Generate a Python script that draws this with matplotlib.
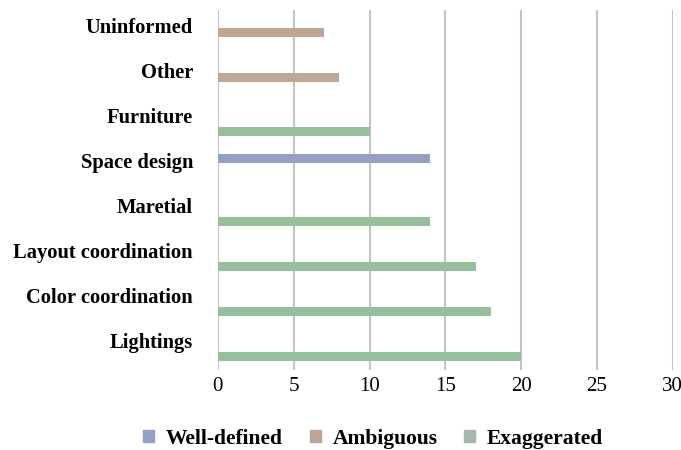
import numpy as np
import matplotlib.pyplot as plt
import matplotlib.transforms as mtransforms
from matplotlib.patches import Patch

# categories listed top to bottom
categories = ["Uninformed", "Other", "Furniture", "Space design", "Maretial",
              "Layout coordination", "Color coordination", "Lightings"]
well_defined = [0, 0, 0, 14, 0, 0, 0, 0]
ambiguous = [7, 8, 0, 0, 0, 0, 0, 0]
exaggerated = [0, 0, 10, 0, 14, 17, 18, 20]
series_names = ["Well-defined", "Ambiguous", "Exaggerated"]

c_well = "#95a1c1"
c_amb = "#bfa594"
c_exa = "#97bf9d"

plt.rcParams["font.family"] = ["Liberation Serif", "DejaVu Serif"]

fig = plt.figure(figsize=(6.81, 4.5), dpi=100)
ax = fig.add_axes([0.320, 0.178, 0.668, 0.800])

y = np.arange(len(categories))
h = 0.2
ax.barh(y - h, well_defined, height=h, color=c_well, edgecolor="none")
ax.barh(y, ambiguous, height=h, color=c_amb, edgecolor="none")
ax.barh(y + h, exaggerated, height=h, color=c_exa, edgecolor="none")

ax.set_xlim(0, 30)
ax.set_ylim(len(categories) - 0.5, -0.5)
ax.set_xticks(range(0, 31, 5))
ax.set_yticks(y)
ax.set_yticklabels(categories, fontsize=14.8, fontweight="bold")
ax.tick_params(axis="both", length=0)
ax.tick_params(axis="y", pad=18)
ax.tick_params(axis="x", pad=5, labelsize=15)

# category names sit a bit above the bar groups
offset = mtransforms.ScaledTranslation(0, 7 / 100, fig.dpi_scale_trans)
for lbl in ax.get_yticklabels():
    lbl.set_transform(lbl.get_transform() + offset)

ax.grid(axis="x", color="#c4c4c4", linewidth=1.5)
ax.set_axisbelow(True)
for s in ax.spines.values():
    s.set_visible(False)

handles = [Patch(color=c_well), Patch(color=c_amb), Patch(color="#a6b8ac")]
fig.legend(handles, series_names, loc="center", bbox_to_anchor=(0.548, 0.025),
           ncol=3, frameon=False, prop={"weight": "bold", "size": 15.5},
           handlelength=0.5, handleheight=0.5, handletextpad=0.55,
           columnspacing=1.25)

fig.savefig("out.png", dpi=100)
